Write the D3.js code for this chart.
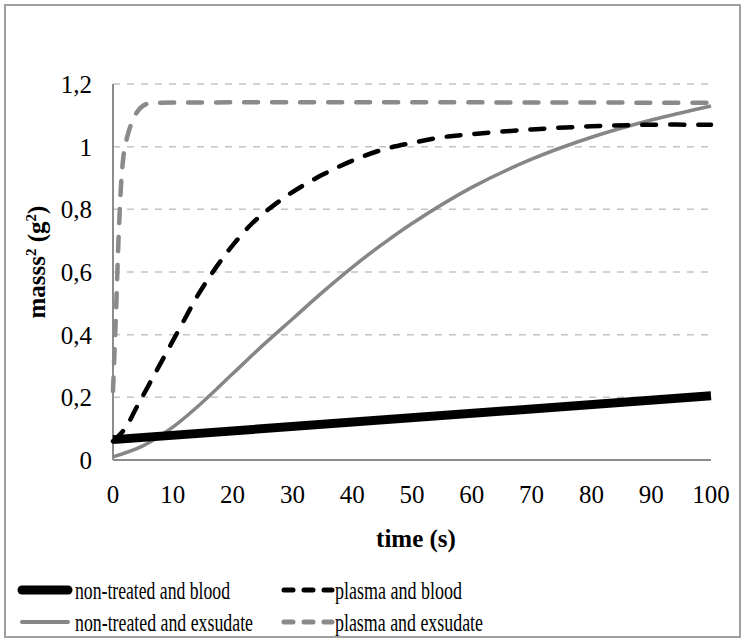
<!DOCTYPE html>
<html>
<head>
<meta charset="utf-8">
<script src="https://cdn.jsdelivr.net/npm/d3@7/dist/d3.min.js"></script>
<style>
  html, body { margin: 0; padding: 0; background: #fff; }
  svg { display: block; }
</style>
</head>
<body>
<svg id="chart" width="743" height="640"></svg>
<script>
// ---- data ----
const yTicks = [0, 0.2, 0.4, 0.6, 0.8, 1, 1.2];
const yTickLabels = ["0", "0,2", "0,4", "0,6", "0,8", "1", "1,2"];
const xTicks = [0, 10, 20, 30, 40, 50, 60, 70, 80, 90, 100];

const ntBloodTime = [0, 100];
const ntBloodMass = [0.065, 0.205];

const plBloodTime = [0, 2, 4, 6, 8, 10, 12, 14, 16, 18, 20, 23, 26, 30, 35, 40, 45, 50, 55, 60, 70, 80, 90, 100];
const plBloodMass = [0.06, 0.1, 0.17, 0.24, 0.31, 0.38, 0.45, 0.52, 0.58, 0.635, 0.685, 0.75, 0.80, 0.855, 0.91, 0.955, 0.99, 1.012, 1.03, 1.04, 1.055, 1.065, 1.07, 1.07];

const ntExsTime = [0, 5, 10, 15, 20, 25, 30, 35, 40, 45, 50, 60, 70, 80, 90, 100];
const ntExsMass = [0.01, 0.045, 0.105, 0.185, 0.275, 0.365, 0.45, 0.535, 0.615, 0.688, 0.755, 0.87, 0.96, 1.03, 1.085, 1.13];

const plExsTime = [0, 0.5, 1, 1.5, 2, 3, 4, 5, 6, 8, 100];
const plExsMass = [0.22, 0.47, 0.74, 0.92, 1.0, 1.07, 1.11, 1.13, 1.138, 1.14, 1.14];

const seriesNames = ["non-treated and blood", "plasma and blood", "non-treated and exsudate", "plasma and exsudate"];

// ---- layout ----
const FONT = '"Liberation Serif"';
const svg = d3.select("#chart");
const pL = 113, pR = 711, pT = 84, pB = 460;
const x = d3.scaleLinear().domain([0, 100]).range([pL, pR]);
const y = d3.scaleLinear().domain([0, 1.2]).range([pB, pT]);

// outer border
svg.append("rect").attr("x", 5).attr("y", 5).attr("width", 735).attr("height", 632)
  .attr("fill", "#fff").attr("stroke", "#a0a0a0").attr("stroke-width", 2);

// gridlines
svg.append("g").selectAll("line").data(yTicks.filter(d => d > 0)).join("line")
  .attr("x1", pL).attr("x2", pR)
  .attr("y1", d => y(d)).attr("y2", d => y(d))
  .attr("stroke", "#c4c4c4").attr("stroke-width", 1.5).attr("stroke-dasharray", "7,7");

// axes lines
svg.append("line").attr("x1", pL).attr("x2", pL).attr("y1", pT).attr("y2", pB)
  .attr("stroke", "#8c8c8c").attr("stroke-width", 2);
svg.append("line").attr("x1", pL).attr("x2", pR).attr("y1", pB).attr("y2", pB)
  .attr("stroke", "#8c8c8c").attr("stroke-width", 2);

// y tick labels
svg.append("g").selectAll("text").data(yTicks).join("text")
  .attr("x", 92).attr("y", d => y(d) + 9)
  .attr("text-anchor", "end").attr("font-size", 25).style("font-family", FONT)
  .text((d, i) => yTickLabels[i]);

// x tick labels
svg.append("g").selectAll("text").data(xTicks).join("text")
  .attr("x", d => x(d)).attr("y", 503)
  .attr("text-anchor", "middle").attr("font-size", 25).style("font-family", FONT)
  .text(d => d);

// axis titles
svg.append("text").attr("x", 416).attr("y", 547).attr("text-anchor", "middle")
  .attr("font-size", 25).attr("font-weight", "bold").style("font-family", FONT).text("time (s)");

const yl = svg.append("text").attr("transform", "translate(45,262) rotate(-90)")
  .attr("text-anchor", "middle").attr("font-size", 25).attr("font-weight", "bold").style("font-family", FONT);
yl.append("tspan").text("masss");
yl.append("tspan").attr("dy", -9).attr("font-size", 15).text("2");
yl.append("tspan").attr("dy", 9).text(" (g");
yl.append("tspan").attr("dy", -9).attr("font-size", 15).text("2");
yl.append("tspan").attr("dy", 9).text(")");

// series
const line = d3.line().x(d => x(d[0])).y(d => y(d[1])).curve(d3.curveCatmullRom.alpha(0.5));
const zip = (a, b) => a.map((v, i) => [v, b[i]]);

const styles = [
  { color: "#000", width: 9, dash: null, cap: "butt" },
  { color: "#000", width: 4.5, dash: "14,14", cap: "round" },
  { color: "#868686", width: 3.5, dash: null, cap: "butt" },
  { color: "#8a8a8a", width: 4.5, dash: "14,14", cap: "round" }
];
const seriesData = [
  zip(ntBloodTime, ntBloodMass),
  zip(plBloodTime, plBloodMass),
  zip(ntExsTime, ntExsMass),
  zip(plExsTime, plExsMass)
];
const drawOrder = [2, 0, 1, 3];
drawOrder.forEach(i => {
  const s = styles[i];
  svg.append("path").datum(seriesData[i])
    .attr("d", line).attr("fill", "none")
    .attr("stroke", s.color).attr("stroke-width", s.width)
    .attr("stroke-linecap", s.cap)
    .attr("stroke-dasharray", s.dash);
});

// legend
const legendPos = [
  { sx: 18, tx: 75, y: 590, len: 155 },
  { sx: 282, tx: 335, y: 590, len: 127 },
  { sx: 18, tx: 75, y: 622, len: 178 },
  { sx: 282, tx: 335, y: 622, len: 148 }
];
const legendStyles = [
  { color: "#000", width: 9, dash: null },
  { color: "#000", width: 5, dash: "9,11" },
  { color: "#868686", width: 4, dash: null },
  { color: "#8a8a8a", width: 5, dash: "9,11" }
];
seriesNames.forEach((name, i) => {
  const p = legendPos[i], s = legendStyles[i];
  svg.append("line")
    .attr("x1", p.sx + (s.dash ? 2 : 4)).attr("x2", p.sx + 50)
    .attr("y1", p.y).attr("y2", p.y)
    .attr("stroke", s.color).attr("stroke-width", s.width)
    .attr("stroke-linecap", "round").attr("stroke-dasharray", s.dash);
  svg.append("text").attr("x", p.tx).attr("y", p.y + 9)
    .attr("font-size", 25).style("font-family", FONT)
    .attr("textLength", p.len).attr("lengthAdjust", "spacingAndGlyphs")
    .text(name);
});
</script>
</body>
</html>
